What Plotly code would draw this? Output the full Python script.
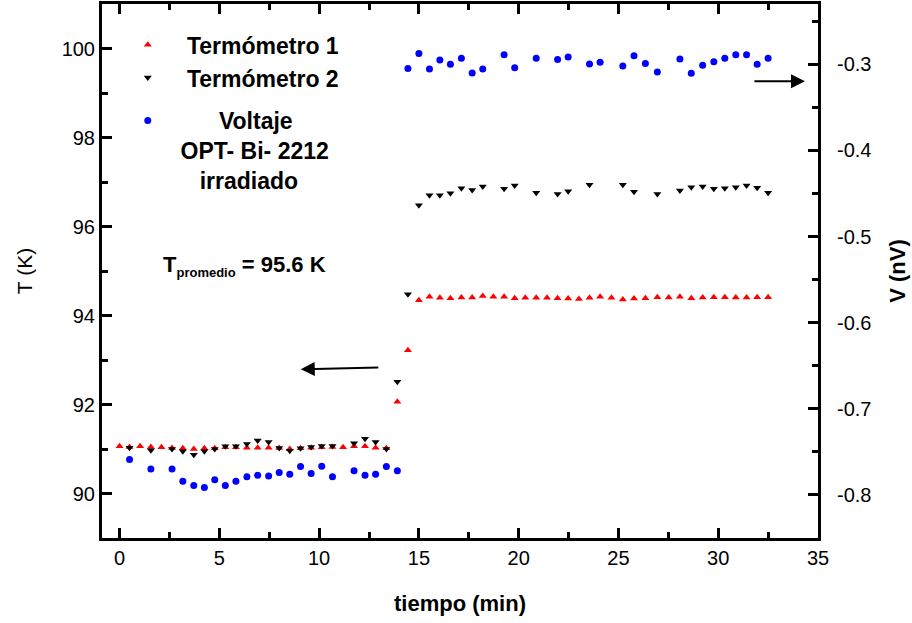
import plotly.graph_objects as go

# ---- data ----
tiempo = [0.0, 0.5, 1.03, 1.57, 2.1, 2.63, 3.17, 3.72, 4.25, 4.77, 5.3, 5.83, 6.38, 6.92,
          7.47, 8.0, 8.53, 9.07, 9.6, 10.13, 10.67, 11.2, 11.75, 12.3, 12.83, 13.37, 13.92,
          14.45, 15.0, 15.53, 16.05, 16.58, 17.13, 17.67, 18.2, 18.73, 19.27, 19.8, 20.33,
          20.88, 21.42, 21.95, 22.48, 23.02, 23.55, 24.08, 24.65, 25.22, 25.78, 26.35, 26.95,
          27.52, 28.08, 28.65, 29.22, 29.78, 30.33, 30.88, 31.42, 31.95, 32.5]

termometro1 = [91.06, 91.045, 91.06, 91.045, 91.04, 91.02, 91.015, 91.0, 91.015, 91.015,
               91.04, 91.04, 91.03, 91.03, 91.03, 91.02, 91.0, 91.015, 91.03, 91.04, 91.045,
               91.04, 91.06, 91.06, 91.03, 91.015, 92.06, 93.22,
               94.345, 94.42, 94.397, 94.39, 94.405, 94.405, 94.44, 94.42, 94.42, 94.39,
               94.397, 94.397, 94.397, 94.39, 94.383, 94.37, 94.397, 94.42, 94.397, 94.36,
               94.383, 94.39, 94.41, 94.405, 94.42, 94.39, 94.405, 94.41, 94.41, 94.405,
               94.405, 94.41, 94.41]

termometro2 = [None, 91.03, None, 90.97, None, 91.0, 90.95, 90.87, 90.95, 91.0, 91.06, 91.06,
               91.11, 91.19, 91.16, 91.02, 90.96, 91.015, 91.045, 91.07, 91.07, None, 91.13,
               91.23, 91.16, 91.0, 92.51, 94.48,
               96.48, 96.70, 96.70, 96.75, 96.86, 96.82, 96.90, None, 96.85, 96.92, None,
               96.76, None, 96.73, 96.79, None, 96.94, None, None, 96.94, 96.78, None, 96.73,
               None, 96.81, 96.88, 96.90, 96.85, 96.86, 96.88, 96.92, 96.87, 96.76]

voltaje = [None, -0.759, None, -0.770, None, -0.770, -0.784, -0.789, -0.7915, -0.7825,
           -0.789, -0.784, -0.779, -0.777, -0.778, -0.774, -0.776, -0.767, -0.775, -0.7666,
           -0.779, None, -0.772, -0.777, -0.776, -0.767, -0.772,
           -0.305, -0.2875, -0.3055, -0.295, -0.300, -0.293, -0.310, -0.3055, None, -0.289,
           -0.304, None, -0.293, None, -0.2945, -0.2915, None, -0.2997, -0.2977, None,
           -0.302, -0.290, -0.299, -0.309, None, -0.294, -0.3105, -0.301, -0.297, -0.293,
           -0.289, -0.289, -0.300, -0.293]

v_tickvals = [-0.8, -0.7, -0.6, -0.5, -0.4, -0.3]
v_ticktext = ["-0.8", "-0.7", "-0.6", "-0.5", "-0.4", "-0.3"]

FONT = "Liberation Sans, Arial, sans-serif"

fig = go.Figure()
fig.add_trace(go.Scatter(
    x=tiempo, y=termometro1, mode="markers", name="<b>   Termómetro 1</b>",
    legendgroup="t", marker=dict(symbol="triangle-up", size=7, color="#ff0000")))
fig.add_trace(go.Scatter(
    x=tiempo, y=termometro2, mode="markers", name="<b>   Termómetro 2</b>",
    legendgroup="t", marker=dict(symbol="triangle-down", size=7, color="#000000")))
fig.add_trace(go.Scatter(
    x=tiempo, y=voltaje, mode="markers", yaxis="y2",
    name="<b>        Voltaje<br>  OPT- Bi- 2212<br>     irradiado</b>",
    legendgroup="v", marker=dict(symbol="circle", size=7, color="#0000ff")))

axis_common = dict(showline=True, linewidth=3, linecolor="black", ticks="inside",
                   tickwidth=2.5, ticklen=10, tickcolor="black", showgrid=False,
                   zeroline=False, automargin=False,
                   tickfont=dict(family=FONT, size=20, color="black"))

fig.update_layout(
    width=912, height=623,
    margin=dict(l=102, r=94, t=4, b=85, autoexpand=False),
    paper_bgcolor="white", plot_bgcolor="white",
    font=dict(family=FONT, color="black"),
    xaxis=dict(range=[-0.88, 35], dtick=5, tick0=0, mirror="ticks",
               minor=dict(dtick=2.5, ticks="inside", ticklen=6, tickwidth=2.5, tickcolor="black"),
               title=dict(text="<b>tiempo (min)</b>", font=dict(family=FONT, size=22), standoff=28),
               **axis_common),
    yaxis=dict(range=[89, 101], dtick=2, tick0=90,
               minor=dict(dtick=1, ticks="inside", ticklen=6, tickwidth=2.5, tickcolor="black"),
               title=dict(text="T (K)", font=dict(family=FONT, size=21), standoff=24),
               **axis_common),
    yaxis2=dict(overlaying="y", side="right", range=[-0.85, -0.23],
                tickmode="array", tickvals=v_tickvals, ticktext=v_ticktext,
                ticklabelstandoff=12,
                minor=dict(tickmode="linear", tick0=-0.8, dtick=0.05, ticks="inside",
                           ticklen=6, tickwidth=2.5, tickcolor="black"),
                title=dict(text="<b>V (nV)</b>", font=dict(family=FONT, size=22), standoff=20),
                **axis_common),
    showlegend=True,
    legend=dict(x=0.036, y=0.964, xanchor="left", yanchor="top", bgcolor="rgba(0,0,0,0)",
                font=dict(family=FONT, size=23, color="black"), tracegroupgap=10,
                valign="top", traceorder="grouped"),
)

fig.add_annotation(xref="paper", yref="paper", x=0.082, y=0.51, xanchor="left", yanchor="middle",
                   showarrow=False,
                   text="<b>T<sub><span style='font-size:13px'>promedio</span></sub> = 95.6 K</b>",
                   font=dict(family=FONT, size=22, color="black"))

# arrows indicating which axis each series belongs to
fig.add_annotation(x=9.08, y=92.79, ax=13.04, ay=92.83, xref="x", yref="y", axref="x", ayref="y",
                   text="", showarrow=True, arrowhead=2, arrowsize=1.4, arrowwidth=2,
                   arrowcolor="black")
fig.add_annotation(x=34.35, y=-0.3197, ax=31.74, ay=-0.3197, xref="x", yref="y2", axref="x",
                   ayref="y2", text="", showarrow=True, arrowhead=2, arrowsize=1.4,
                   arrowwidth=2, arrowcolor="black")

fig.write_html("out.html", config={"displayModeBar": False},
               post_script="document.body.style.margin='0';")
